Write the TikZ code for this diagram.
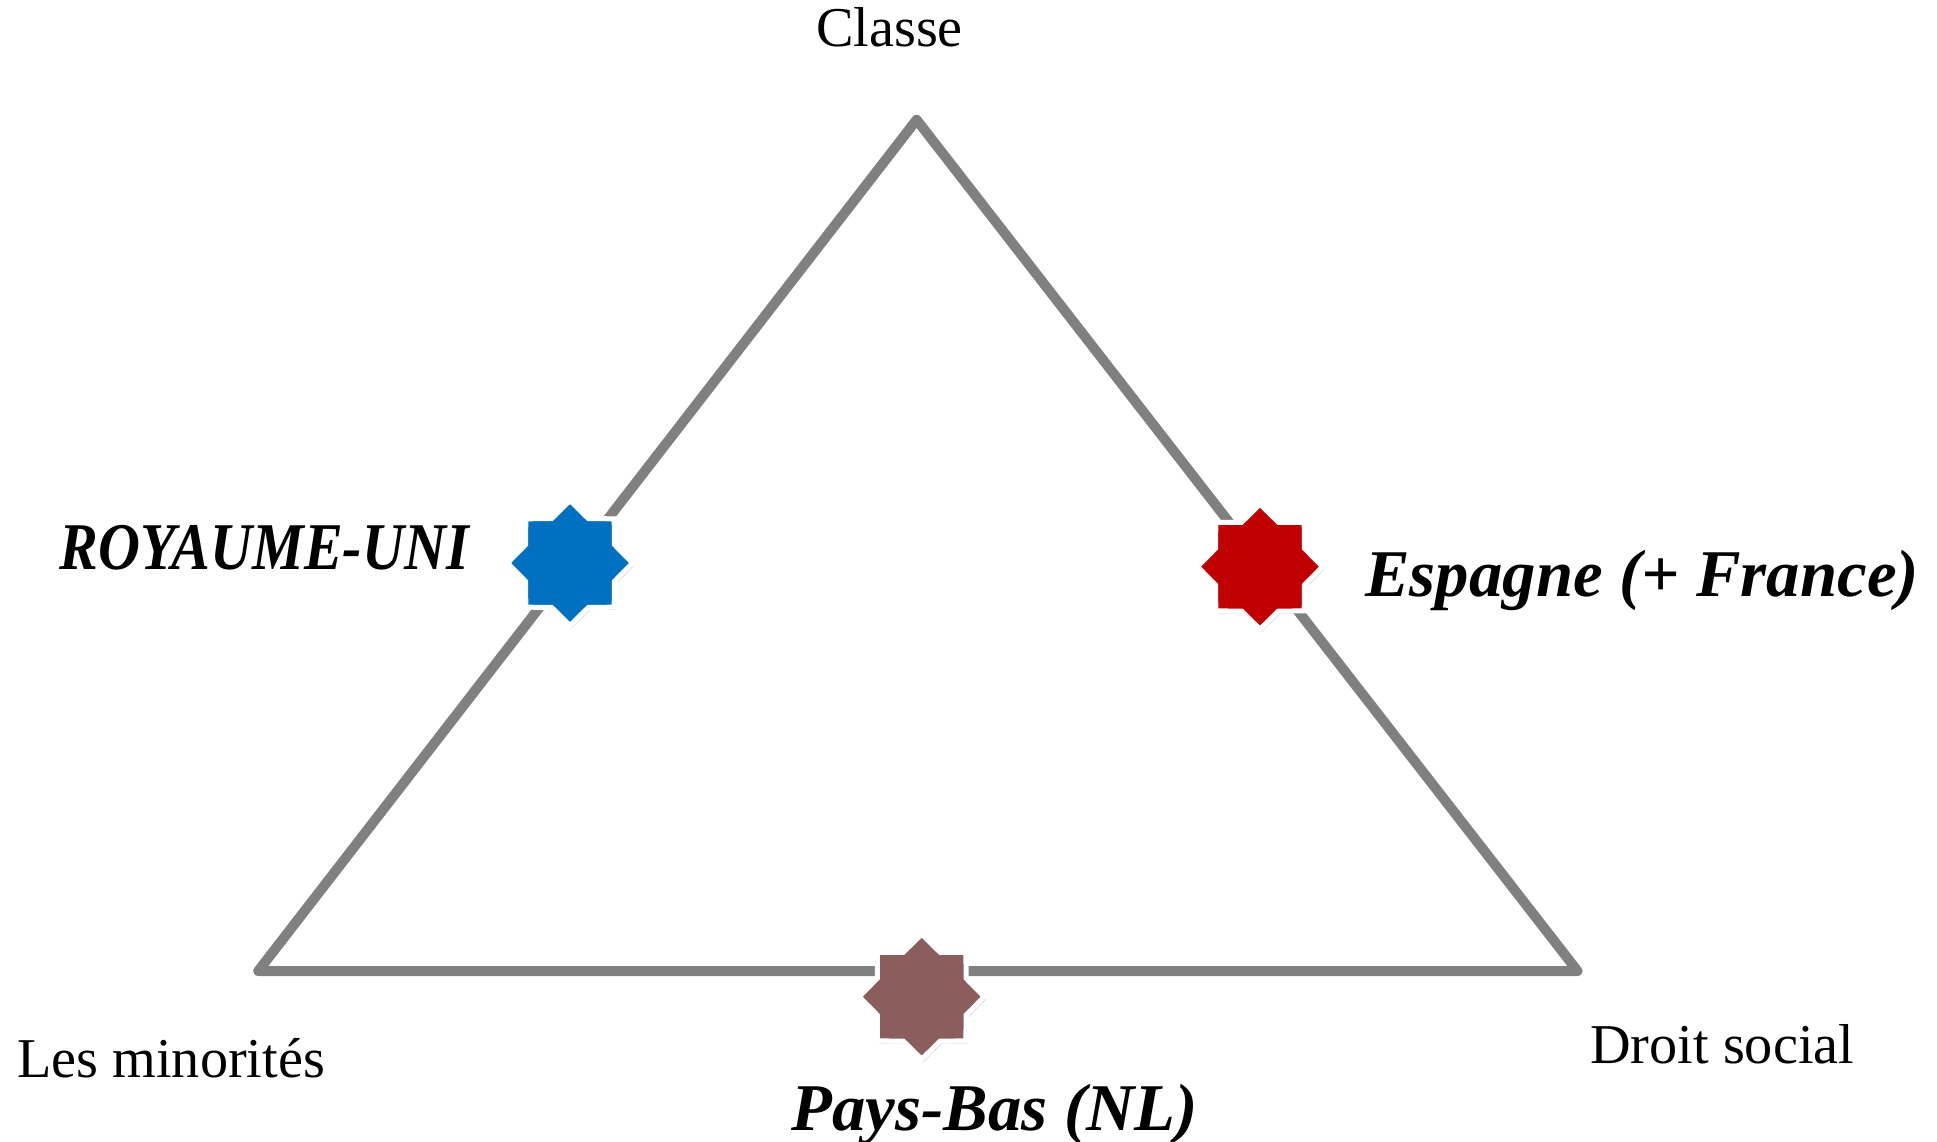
\documentclass[tikz,border=0pt]{standalone}
\usepackage{fontspec}
\setmainfont{Liberation Serif}
\usetikzlibrary{shapes.geometric,shadows}
\definecolor{ukblue}{HTML}{0070C0}
\definecolor{esred}{HTML}{C00000}
\definecolor{nlbrown}{HTML}{8B5D5D}
\definecolor{edgegray}{HTML}{808080}

\begin{document}
\begin{tikzpicture}[x=0.02cm,y=-0.02cm,
  pole/.style={font=\fontsize{32}{38}\selectfont,inner sep=0pt},
  country/.style={font=\fontsize{38}{44}\selectfont\bfseries\itshape,inner sep=0pt},
  etoile/.style={star,star points=8,star point ratio=1.3,minimum size=2.5cm,
  inner sep=0pt,draw=white,line width=0.1cm,
  drop shadow={opacity=0.35,shadow xshift=1pt,shadow yshift=-1.5pt}}]
\useasboundingbox (0,0) rectangle (1937,1142);
% corners of the triangle
\coordinate (top)   at (916.6,119.8);
\coordinate (left)  at (258.2,971);
\coordinate (right) at (1577.5,971);
\draw[edgegray,line width=0.2cm,line join=round,line cap=round,
  preaction={draw=black,opacity=0.15,transform canvas={shift={(1pt,-1.5pt)}}}]
  (top)--(right)--(left)--cycle;
% poles
\node[pole,anchor=base]      (classe) at (889.5,47)    {Classe};
\node[pole,anchor=base west] (minor)  at (17,1077)     {Les minorités};
\node[pole,anchor=base west] (droit)  at (1590,1063.6) {Droit social};
% countries
\node[etoile,fill=ukblue]  (uk) at (570,563)     {};
\node[etoile,fill=esred]   (es) at (1260,566.7)  {};
\node[etoile,fill=nlbrown] (nl) at (921.7,996.7) {};
\node[country,anchor=base east,xscale=0.87] (ukl) at (469,569.5) {ROYAUME-UNI};
\node[country,anchor=base west] (esl) at (1365,596.6) {Espagne (+ France)};
\node[country,anchor=base]      (nll) at (994.5,1130) {Pays-Bas (NL)};
\end{tikzpicture}
\end{document}
